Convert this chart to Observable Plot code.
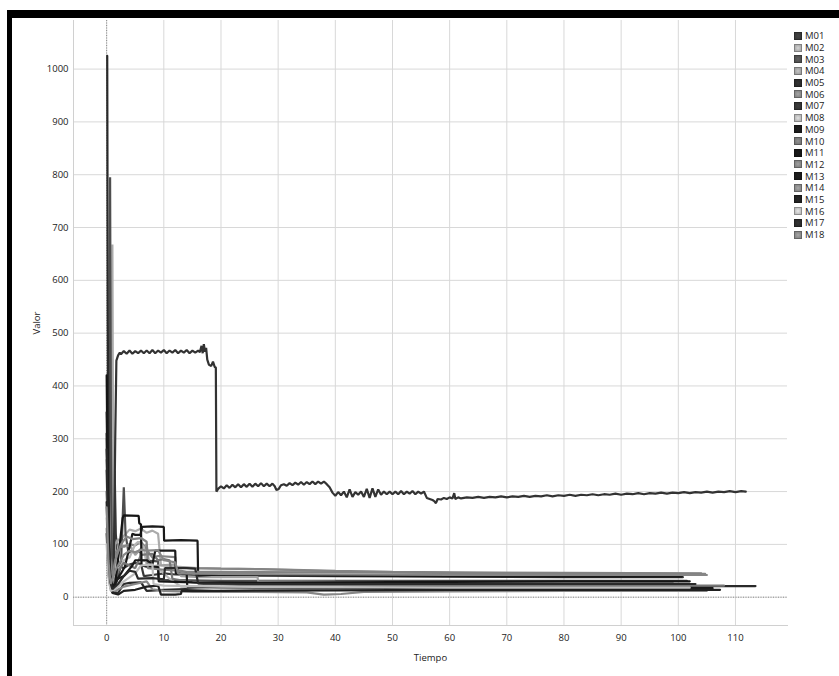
<!DOCTYPE html>
<html><head><meta charset="utf-8">
<script src="https://cdn.jsdelivr.net/npm/d3@7"></script>
<script src="https://cdn.jsdelivr.net/npm/@observablehq/plot@0.6"></script>
<style>
html,body{margin:0;padding:0;background:#fff;width:839px;height:676px;overflow:hidden;}
#wrap{position:relative;width:839px;height:676px;}
#chart{position:absolute;left:0;top:0;}
.bt{position:absolute;left:7px;top:10px;width:832px;height:8px;background:#000;}
.bl{position:absolute;left:7px;top:10px;width:5px;height:666px;background:#000;}
#legend{position:absolute;left:794px;top:30px;font-family:"Open Sans",sans-serif;font-size:9.5px;color:#1a1a1a;}
.row{height:11.7px;display:flex;align-items:center;white-space:nowrap;}
.sw{width:6px;height:6px;margin-right:3px;border:1px solid;}
</style></head>
<body><div id="wrap"><div id="chart"></div><div class="bt"></div><div class="bl"></div><div id="legend"></div></div>
<script>
const names = ["M01","M02","M03","M04","M05","M06","M07","M08","M09","M10","M11","M12","M13","M14","M15","M16","M17","M18"];
const colors = ["#383838","#ababab","#4e4e4e","#a0a0a0","#2a2a2a","#858585","#333333","#b6b6b6","#1a1a1a","#777777","#151515","#828282","#1a1a1a","#878787","#202020","#bdbdbd","#2a2a2a","#868686"];
const xTicks = [0,10,20,30,40,50,60,70,80,90,100,110];
const yTicks = [0,100,200,300,400,500,600,700,800,900,1000];

const M01 = [[0,240],[0.3,90],[0.6,30],[1,20],[1.4,240],[1.6,120],[2,60],[3,55],[4,62],[5,65],[6,63],[6.5,40],[8,42],[10,45],[12,43],[15,42],[20,41],[40,40],[60,39],[80,38],[100.8,38]];
const M02 = [[0.8,50],[1.0,668],[1.15,200],[1.3,60],[1.6,40],[2,95],[2.5,110],[3.2,118],[4,128],[5,125],[6,130],[7,122],[8,126],[9,120],[9.5,60],[12,58],[16,55],[20,54],[27,53],[40,49],[60,46],[80,44],[103,43]];
const M03 = [[0.4,60],[0.6,795],[0.75,300],[0.9,90],[1.1,30],[1.5,20],[2.5,60],[3.0,208],[3.3,120],[3.8,85],[5.9,86],[6,70],[9,68],[9.1,33],[20,31],[40,31],[60,31],[101.5,31]];
const M04 = [[0,200],[0.4,90],[0.8,30],[1.2,60],[1.5,100],[2,110],[3,95],[4,100],[5,80],[6,92],[7,100],[7.5,58],[9,60],[12,62],[13,40],[16.3,38],[26.4,38],[26.5,30],[40,29],[60,28],[80,28],[99,28]];
const M05 = [[0.1,1025],[0.2,520],[0.32,190],[0.5,55],[0.8,15],[1.2,10],[2,8],[3,25],[4,27],[6,28],[7,12],[10,14],[15,16],[20,18],[30,19],[40,20],[60,21],[80,21],[100,21],[113.5,21]];
const M06 = [[0,260],[0.4,100],[0.9,40],[1.5,85],[2.5,95],[4,100],[5,98],[6,105],[8,75],[9,78],[12,76],[12.1,56],[15,55],[20,54],[27,53],[40,50],[50,48],[70,46],[90,45],[104.7,44]];
const M07 = [[0,120],[0.3,45],[0.7,18],[1.2,20],[1.5,300],[1.7,448],[2.0,458],[2.3,463],
 [2.5,460],[3,466],[3.5,461],[4,467],[4.5,461],[5,466],[5.5,462],[6,467],[6.5,462],[7,467],[7.5,462],[8,468],[8.5,462],[9,467],[9.5,463],[10,468],[10.5,462],[11,467],[11.5,463],[12,468],[12.5,462],[13,467],[13.5,463],[14,468],[14.5,462],[15,467],[15.5,463],[16,467],[16.3,464],
 [16.6,476],[16.8,462],[17.0,479],[17.2,465],[17.4,472],[17.6,450],[17.9,440],[18.3,438],[18.6,446],[18.9,436],[19.1,435],[19.2,200],
 [19.5,205],[20,210],[20.5,206],[21,212],[21.5,207],[22,213],[22.5,208],[23,214],[23.5,208],[24,214],[24.5,209],[25,215],[25.5,209],[26,215],[26.5,210],[27,216],[27.5,210],[28,215],[28.5,210],[29,215],[29.4,210],[29.7,203],[30.1,205],[30.5,212],[31,214],[31.5,211],[32,216],[32.5,212],[33,217],[33.5,213],[34,218],[34.5,213],[35,218],[35.5,214],[36,219],[36.5,214],[37,219],[37.5,215],[38,219],[38.5,214],[39,208],[39.5,198],[40,192],
 [40.5,199],[41,193],[41.5,200],[42,189],[42.5,204],[43,190],[43.5,199],[44,194],[44.5,200],[45,190],[45.5,205],[46,188],[46.5,206],[47,190],[47.5,204],[48,194],[48.5,200],[49,195],[49.5,200],[50,195],[50.5,200],[51,195],[51.5,201],[52,195],[52.5,200],[53,196],[53.5,201],[54,195],[54.5,200],[55,196],[55.5,200],[56,188],[56.5,186],[57,184],[57.3,182],[57.6,178],[57.9,186],[58.5,185],[59,188],[59.5,186],[60,189],[60.5,187],[60.8,197],[61,186],[61.5,189],[62,187],[63,189],
 [64,188],[65,190],[66,188],[67,190],[68,189],[69,191],[70,189],[71,191],[72,190],[73,192],[74,190],[75,192],[76,191],[77,193],[78,191],[79,193],[80,192],[81,194],[82,192],[83,194],[84,193],[85,195],[86,193],[87,195],[88,194],[89,196],[90,194],[91,196],[92,195],[93,197],[94,195],[95,197],[96,196],[97,198],[98,196],[99,198],[100,197],[101,199],[102,197],[103,199],[104,198],[105,200],[106,198],[107,200],[108,199],[109,201],[110,199],[111,201],[111.8,200]];
const M08 = [[0,150],[0.4,60],[0.8,20],[1.5,40],[3,70],[4,75],[5,100],[5.5,105],[6.5,95],[7,60],[9,55],[11,35],[13,20],[16,18],[25,16],[40,15],[60,15],[80,16],[104,16]];
const M09 = [[0,310],[0.3,120],[0.6,40],[1,22],[1.6,30],[2.5,45],[3.2,58],[4,95],[4.5,120],[5,118],[5.9,118],[6.2,133],[8,134],[10,133],[10.05,107],[13,108],[15.9,107],[16,41],[20,43],[30,42],[40,41],[60,40],[80,39],[100.6,39]];
const M10 = [[0,300],[0.3,110],[0.6,35],[1,20],[2,50],[3,65],[4,60],[5,55],[6,80],[8,82],[9,70],[10,72],[11,70],[11.5,35],[14,30],[17,25],[25,23],[40,22],[60,22],[80,22],[108,22]];
const M11 = [[0,420],[0.2,200],[0.5,60],[0.9,20],[1.5,25],[2.2,90],[2.8,150],[3.0,155],[5.6,154],[5.7,140],[6.0,138],[6.1,60],[7,58],[9,57],[9.1,30],[15,28],[25,27],[40,28],[60,29],[80,30],[102,30]];
const M12 = [[0,200],[0.4,80],[0.8,30],[1.5,70],[2.5,100],[3.5,115],[4.5,110],[6,112],[7,105],[7.2,55],[10,52],[13,50],[14,48],[20,48],[40,47],[60,46],[80,46],[104,45]];
const M13 = [[0,350],[0.3,140],[0.6,45],[1,18],[2,35],[3,40],[4.5,60],[5,70],[7,70],[8,62],[8.5,88],[12,88],[12.1,45],[14,44],[14.1,20],[20,19],[40,18],[60,17],[80,17],[106,17]];
const M14 = [[0,130],[0.4,50],[0.8,15],[1.5,12],[3,20],[5,25],[7,30],[8,15],[10,12],[15,10],[25,10],[35,9],[38,5],[41,6],[45,10],[60,11],[80,12],[105,12]];
const M15 = [[0,180],[0.3,70],[0.6,20],[1,8],[2,5],[3,12],[5,14],[7,20],[9,22],[9.5,5],[12,5],[13,6],[13.1,12],[20,12],[40,13],[60,14],[80,14],[107.3,14]];
const M16 = [[0,100],[0.3,40],[0.7,12],[1.5,15],[3,30],[5,45],[6,60],[8,62],[8.2,25],[10,22],[20,20],[40,19],[60,18],[80,18],[102,18]];
const M17 = [[0,280],[0.3,100],[0.6,30],[1,15],[2,25],[3,40],[4,50],[5,48],[5.5,35],[8,36],[10,34],[10.2,55],[14,55],[15.5,54],[16,26],[25,25],[40,25],[60,25],[80,25],[103,25]];
const M18 = [[0,170],[0.3,70],[0.7,25],[1.5,50],[3,80],[4,88],[5,85],[6,90],[7,88],[9,89],[10,70],[11,68],[12,66],[12.5,45],[20,44],[40,43],[60,42],[80,42],[105,42]];

const seriesList = [M01,M02,M03,M04,M05,M06,M07,M08,M09,M10,M11,M12,M13,M14,M15,M16,M17,M18];
const rows = [];
names.forEach((n, i) => { for (const [t, v] of seriesList[i]) rows.push({serie: n, t, v}); });

const chart = Plot.plot({
  width: 839, height: 676,
  marginLeft: 73, marginRight: 52, marginTop: 20, marginBottom: 51,
  style: {fontFamily: '"Open Sans", sans-serif', fontSize: "9.5px", color: "#222", background: "transparent"},
  x: {domain: [-5.8, 119.1]},
  y: {domain: [-53.6, 1092]},
  color: {domain: names, range: colors},
  marks: [
    Plot.gridX(xTicks, {stroke: "#d8d8d8", strokeOpacity: 1}),
    Plot.gridY(yTicks, {stroke: "#d8d8d8", strokeOpacity: 1}),
    Plot.frame({anchor: "left", stroke: "#d0d0d0"}),
    Plot.frame({anchor: "bottom", stroke: "#d0d0d0"}),
    Plot.ruleX([0], {stroke: "#8a8a8a", strokeDasharray: "1,1.5"}),
    Plot.ruleY([0], {stroke: "#8a8a8a", strokeDasharray: "1,1.5"}),
    Plot.axisX(xTicks, {tickSize: 0, tickPadding: 9, tickFormat: d => String(d), label: "Tiempo", labelAnchor: "center", labelArrow: "none", labelOffset: 35}),
    Plot.axisY(yTicks, {tickSize: 0, tickPadding: 5, tickFormat: d => String(d), label: "Valor", labelAnchor: "center", labelArrow: "none", labelOffset: 40}),
    Plot.line(rows, {x: "t", y: "v", z: "serie", stroke: "serie", strokeWidth: 2.2, strokeLinejoin: "miter"})
  ]
});
document.getElementById("chart").appendChild(chart);

const leg = document.getElementById("legend");
names.forEach((n, i) => {
  const r = document.createElement("div"); r.className = "row";
  const s = document.createElement("span"); s.className = "sw";
  s.style.background = `radial-gradient(circle, ${d3.color(colors[i]).brighter(0.6)} 0%, ${colors[i]} 80%)`;
  s.style.borderColor = d3.color(colors[i]).darker(0.8);
  const t = document.createElement("span"); t.textContent = n;
  r.appendChild(s); r.appendChild(t); leg.appendChild(r);
});
</script></body></html>
